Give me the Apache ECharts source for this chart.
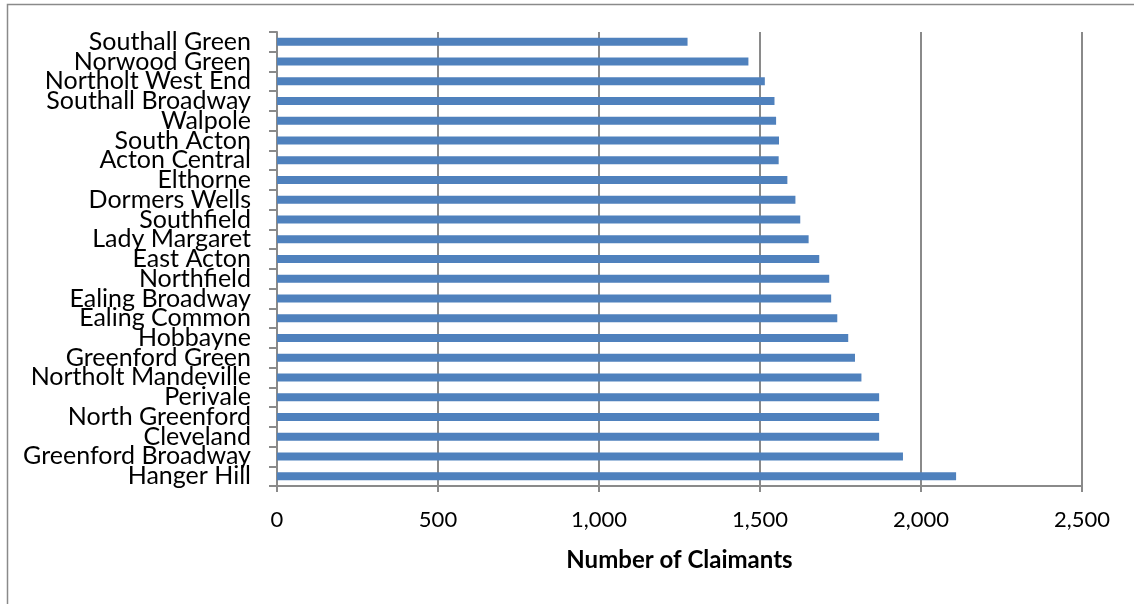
<!DOCTYPE html>
<html>
<head>
<meta charset="utf-8">
<script src="https://cdn.jsdelivr.net/npm/echarts@6/dist/echarts.min.js"></script>
<style>
  html, body { margin: 0; padding: 0; background: #fff; }
  #chart { width: 1134px; height: 604px; }
</style>
</head>
<body>
<div id="chart"></div>
<script>
// Wards, listed top to bottom
const wards = [
  'Southall Green', 'Norwood Green', 'Northolt West End', 'Southall Broadway',
  'Walpole', 'South Acton', 'Acton Central', 'Elthorne', 'Dormers Wells',
  'Southfield', 'Lady Margaret', 'East Acton', 'Northfield', 'Ealing Broadway',
  'Ealing Common', 'Hobbayne', 'Greenford Green', 'Northolt Mandeville',
  'Perivale', 'North Greenford', 'Cleveland', 'Greenford Broadway', 'Hanger Hill'
];

// Number of claimants per ward
const claimants = [
  1275, 1464, 1515, 1545,
  1550, 1559, 1558, 1585, 1610,
  1625, 1651, 1684, 1715, 1721,
  1740, 1774, 1795, 1815,
  1870, 1870, 1870, 1944, 2109
];

const axisTitle = 'Number of Claimants';

const FONT = 'Lato, "Open Sans", sans-serif';
const GREY = '#8a8a8a';

const chart = echarts.init(document.getElementById('chart'), null, { renderer: 'canvas' });

chart.setOption({
  animation: false,
  backgroundColor: '#ffffff',
  graphic: [{
    type: 'rect',
    shape: { x: 7.5, y: 4.5, width: 1300, height: 800 },
    style: { fill: 'none', stroke: GREY, lineWidth: 1.5 },
    silent: true,
    z: -1
  }],
  grid: { left: 277, top: 32, right: 52, bottom: 118 },
  xAxis: {
    type: 'value',
    min: 0,
    max: 2500,
    interval: 500,
    name: axisTitle,
    nameLocation: 'middle',
    nameGap: 62,
    nameTextStyle: { fontFamily: FONT, fontSize: 24, fontWeight: 'bold', color: '#000' },
    axisLine: { show: true, lineStyle: { color: GREY, width: 2 } },
    axisTick: { show: true, length: 6, lineStyle: { color: GREY, width: 2 } },
    axisLabel: {
      fontFamily: FONT, fontSize: 22, color: '#000', margin: 23,
      formatter: v => v.toLocaleString('en-US')
    },
    splitLine: { show: true, lineStyle: { color: GREY, width: 2 } }
  },
  yAxis: {
    type: 'category',
    data: wards,
    inverse: true,
    axisLine: { show: true, lineStyle: { color: GREY, width: 2 } },
    axisTick: { show: true, length: 8, lineStyle: { color: GREY, width: 2 } },
    axisLabel: { fontFamily: FONT, fontSize: 25, color: '#000', margin: 26, interval: 0 },
    splitLine: { show: false }
  },
  series: [{
    type: 'bar',
    data: claimants,
    barWidth: 8,
    itemStyle: { color: '#4F81BD' }
  }]
});
</script>
</body>
</html>
